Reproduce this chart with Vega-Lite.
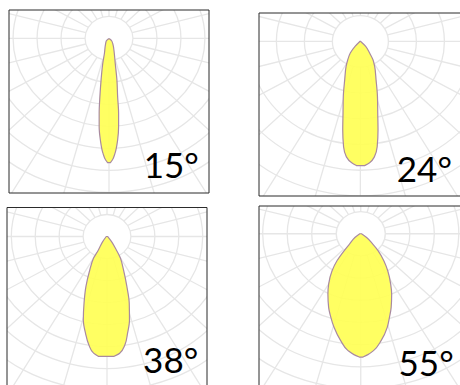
{"$schema":"https://vega.github.io/schema/vega-lite/v6.json","background":"white","padding":{"left":6,"top":9,"right":0,"bottom":0},"config":{"view":{"stroke":null,"fill":"white"}},
"datasets":{
"rings":[
{"g":1,"x":1,"y":0},{"g":1,"x":0.866,"y":0.5},{"g":1,"x":0.5,"y":0.866},{"g":1,"x":0,"y":1},{"g":1,"x":-0.5,"y":0.866},{"g":1,"x":-0.866,"y":0.5},{"g":1,"x":-1,"y":0},{"g":1,"x":-0.866,"y":-0.5},{"g":1,"x":-0.5,"y":-0.866},{"g":1,"x":0,"y":-1},{"g":1,"x":0.5,"y":-0.866},{"g":1,"x":0.866,"y":-0.5},
{"g":2,"x":2,"y":0},{"g":2,"x":1.732,"y":1},{"g":2,"x":1,"y":1.732},{"g":2,"x":0,"y":2},{"g":2,"x":-1,"y":1.732},{"g":2,"x":-1.732,"y":1},{"g":2,"x":-2,"y":0},{"g":2,"x":-1.732,"y":-1},{"g":2,"x":-1,"y":-1.732},{"g":2,"x":0,"y":-2},{"g":2,"x":1,"y":-1.732},{"g":2,"x":1.732,"y":-1},
{"g":3,"x":3,"y":0},{"g":3,"x":2.598,"y":1.5},{"g":3,"x":1.5,"y":2.598},{"g":3,"x":0,"y":3},{"g":3,"x":-1.5,"y":2.598},{"g":3,"x":-2.598,"y":1.5},{"g":3,"x":-3,"y":0},{"g":3,"x":-2.598,"y":-1.5},{"g":3,"x":-1.5,"y":-2.598},{"g":3,"x":0,"y":-3},{"g":3,"x":1.5,"y":-2.598},{"g":3,"x":2.598,"y":-1.5},
{"g":4,"x":4,"y":0},{"g":4,"x":3.464,"y":2},{"g":4,"x":2,"y":3.464},{"g":4,"x":0,"y":4},{"g":4,"x":-2,"y":3.464},{"g":4,"x":-3.464,"y":2},{"g":4,"x":-4,"y":0},{"g":4,"x":-3.464,"y":-2},{"g":4,"x":-2,"y":-3.464},{"g":4,"x":0,"y":-4},{"g":4,"x":2,"y":-3.464},{"g":4,"x":3.464,"y":-2},
{"g":5,"x":5,"y":0},{"g":5,"x":4.33,"y":2.5},{"g":5,"x":2.5,"y":4.33},{"g":5,"x":0,"y":5},{"g":5,"x":-2.5,"y":4.33},{"g":5,"x":-4.33,"y":2.5},{"g":5,"x":-5,"y":0},{"g":5,"x":-4.33,"y":-2.5},{"g":5,"x":-2.5,"y":-4.33},{"g":5,"x":0,"y":-5},{"g":5,"x":2.5,"y":-4.33},{"g":5,"x":4.33,"y":-2.5},
{"g":6,"x":6,"y":0},{"g":6,"x":5.196,"y":3},{"g":6,"x":3,"y":5.196},{"g":6,"x":0,"y":6},{"g":6,"x":-3,"y":5.196},{"g":6,"x":-5.196,"y":3},{"g":6,"x":-6,"y":0},{"g":6,"x":-5.196,"y":-3},{"g":6,"x":-3,"y":-5.196},{"g":6,"x":0,"y":-6},{"g":6,"x":3,"y":-5.196},{"g":6,"x":5.196,"y":-3},
{"g":7,"x":7,"y":0},{"g":7,"x":6.062,"y":3.5},{"g":7,"x":3.5,"y":6.062},{"g":7,"x":0,"y":7},{"g":7,"x":-3.5,"y":6.062},{"g":7,"x":-6.062,"y":3.5},{"g":7,"x":-7,"y":0},{"g":7,"x":-6.062,"y":-3.5},{"g":7,"x":-3.5,"y":-6.062},{"g":7,"x":0,"y":-7},{"g":7,"x":3.5,"y":-6.062},{"g":7,"x":6.062,"y":-3.5}
],
"spokes":[
{"x":1,"y":0,"x2":10,"y2":0},{"x":0.966,"y":0.259,"x2":9.66,"y2":2.59},{"x":0.866,"y":0.5,"x2":8.66,"y2":5},{"x":0.707,"y":0.707,"x2":7.07,"y2":7.07},{"x":0.5,"y":0.866,"x2":5,"y2":8.66},{"x":0.259,"y":0.966,"x2":2.59,"y2":9.66},
{"x":0,"y":1,"x2":0,"y2":10},{"x":-0.259,"y":0.966,"x2":-2.59,"y2":9.66},{"x":-0.5,"y":0.866,"x2":-5,"y2":8.66},{"x":-0.707,"y":0.707,"x2":-7.07,"y2":7.07},{"x":-0.866,"y":0.5,"x2":-8.66,"y2":5},{"x":-0.966,"y":0.259,"x2":-9.66,"y2":2.59},
{"x":-1,"y":0,"x2":-10,"y2":0},{"x":-0.966,"y":-0.259,"x2":-9.66,"y2":-2.59},{"x":-0.866,"y":-0.5,"x2":-8.66,"y2":-5},{"x":-0.707,"y":-0.707,"x2":-7.07,"y2":-7.07},{"x":-0.5,"y":-0.866,"x2":-5,"y2":-8.66},{"x":-0.259,"y":-0.966,"x2":-2.59,"y2":-9.66},
{"x":0,"y":-1,"x2":0,"y2":-10},{"x":0.259,"y":-0.966,"x2":2.59,"y2":-9.66},{"x":0.5,"y":-0.866,"x2":5,"y2":-8.66},{"x":0.707,"y":-0.707,"x2":7.07,"y2":-7.07},{"x":0.866,"y":-0.5,"x2":8.66,"y2":-5},{"x":0.966,"y":-0.259,"x2":9.66,"y2":-2.59}
],
"lobe15":[{"y":-0.03,"x":-0.03,"x2":0.03},{"y":-0.11,"x":-0.11,"x2":0.11},{"y":-0.3,"x":-0.15,"x2":0.17},{"y":-0.68,"x":-0.19,"x2":0.22},{"y":-1.14,"x":-0.26,"x2":0.26},{"y":-1.89,"x":-0.33,"x2":0.33},{"y":-2.65,"x":-0.38,"x2":0.36},{"y":-3.41,"x":-0.41,"x2":0.4},{"y":-4.02,"x":-0.41,"x2":0.4},{"y":-4.62,"x":-0.36,"x2":0.36},{"y":-5.23,"x":-0.25,"x2":0.25},{"y":-5.53,"x":-0.14,"x2":0.14},{"y":-5.65,"x":-0.06,"x2":0.06}],
"lobe24":[{"y":0,"x":-0.02,"x2":0.01},{"y":-0.19,"x":-0.19,"x2":0.19},{"y":-0.45,"x":-0.36,"x2":0.33},{"y":-0.71,"x":-0.45,"x2":0.45},{"y":-0.97,"x":-0.51,"x2":0.51},{"y":-1.49,"x":-0.56,"x2":0.56},{"y":-2.14,"x":-0.61,"x2":0.61},{"y":-2.79,"x":-0.62,"x2":0.62},{"y":-3.44,"x":-0.63,"x2":0.63},{"y":-4.09,"x":-0.6,"x2":0.6},{"y":-4.48,"x":-0.5,"x2":0.5},{"y":-4.71,"x":-0.31,"x2":0.33},{"y":-4.82,"x":-0.14,"x2":0.15}],
"lobe38":[{"y":0,"x":-0.03,"x2":0.03},{"y":-0.23,"x":-0.18,"x2":0.19},{"y":-0.61,"x":-0.36,"x2":0.39},{"y":-0.98,"x":-0.56,"x2":0.56},{"y":-1.52,"x":-0.72,"x2":0.69},{"y":-2.27,"x":-0.88,"x2":0.83},{"y":-3.03,"x":-0.96,"x2":0.93},{"y":-3.79,"x":-0.99,"x2":0.94},{"y":-4.39,"x":-0.9,"x2":0.86},{"y":-4.92,"x":-0.76,"x2":0.75},{"y":-5.3,"x":-0.56,"x2":0.53},{"y":-5.45,"x":-0.35,"x2":0.28}],
"lobe55":[{"y":0,"x":-0.04,"x2":0.03},{"y":-0.17,"x":-0.24,"x2":0.24},{"y":-0.47,"x":-0.46,"x2":0.49},{"y":-0.77,"x":-0.68,"x2":0.71},{"y":-1.22,"x":-0.97,"x2":0.94},{"y":-1.67,"x":-1.17,"x2":1.1},{"y":-2.27,"x":-1.31,"x2":1.22},{"y":-2.72,"x":-1.34,"x2":1.26},{"y":-3.32,"x":-1.31,"x2":1.24},{"y":-3.77,"x":-1.22,"x2":1.17},{"y":-4.22,"x":-1.09,"x2":1.08},{"y":-4.82,"x":-0.82,"x2":0.83},{"y":-5.27,"x":-0.52,"x2":0.52},{"y":-5.45,"x":-0.28,"x2":0.29},{"y":-5.56,"x":-0.06,"x2":0.09}]
},
"hconcat":[
{"vconcat":[
{"hconcat":[
{"width":1,"height":3,"view":{"stroke":null,"fill":null},"data":{"values":[]},"mark":{"type":"rule"},"encoding":{}},
{"width":200,"height":183,
"encoding":{"x":{"field":"x","type":"quantitative","axis":null,"scale":{"domain":[-4.17,4.17],"nice":false,"zero":false}},"y":{"field":"y","type":"quantitative","axis":null,"scale":{"domain":[-7.03,1.286],"nice":false,"zero":false}}},
"layer":[
{"data":{"name":"rings"},"mark":{"type":"line","clip":true,"interpolate":"cardinal-closed","stroke":"#e6e6e6","strokeWidth":1.3},"encoding":{"detail":{"field":"g"},"order":{"value":null}}},
{"data":{"name":"spokes"},"mark":{"type":"rule","clip":true,"stroke":"#e6e6e6","strokeWidth":1.3},"encoding":{"x2":{"field":"x2"},"y2":{"field":"y2"}}},
{"data":{"name":"lobe15"},"mark":{"type":"area","orient":"horizontal","interpolate":"monotone","fill":"#ffff55","fillOpacity":0.92,"stroke":"#a98aa0","strokeWidth":1.2},"encoding":{"x2":{"field":"x2"}}},
{"data":{"values":[{"label":"15°","x":1.45,"y":-6.35}]},"mark":{"type":"text","font":"Lato","fontSize":35,"align":"left","baseline":"alphabetic","fill":"#000000"},"encoding":{"text":{"field":"label"}}},
{"data":{"values":[{"x":-4.17,"x2":4.17,"y":-7.03,"y2":1.286}]},"mark":{"type":"rect","fillOpacity":0,"stroke":"#2b2b2b","strokeWidth":1},"encoding":{"x2":{"field":"x2"},"y2":{"field":"y2"}}}
]}
],"spacing":0},
{"width":200,"height":180,
"encoding":{"x":{"field":"x","type":"quantitative","axis":null,"scale":{"domain":[-4.18,4.18],"nice":false,"zero":false}},"y":{"field":"y","type":"quantitative","axis":null,"scale":{"domain":[-6.86,1.318],"nice":false,"zero":false}}},
"layer":[
{"data":{"name":"rings"},"mark":{"type":"line","clip":true,"interpolate":"cardinal-closed","stroke":"#e6e6e6","strokeWidth":1.3},"encoding":{"detail":{"field":"g"},"order":{"value":null}}},
{"data":{"name":"spokes"},"mark":{"type":"rule","clip":true,"stroke":"#e6e6e6","strokeWidth":1.3},"encoding":{"x2":{"field":"x2"},"y2":{"field":"y2"}}},
{"data":{"name":"lobe38"},"mark":{"type":"area","orient":"horizontal","interpolate":"monotone","fill":"#ffff55","fillOpacity":0.92,"stroke":"#a98aa0","strokeWidth":1.2},"encoding":{"x2":{"field":"x2"}}},
{"data":{"values":[{"label":"38°","x":1.51,"y":-6.22}]},"mark":{"type":"text","font":"Lato","fontSize":35,"align":"left","baseline":"alphabetic","fill":"#000000"},"encoding":{"text":{"field":"label"}}},
{"data":{"values":[{"x":-4.18,"x2":4.18,"y":-6.86,"y2":1.318}]},"mark":{"type":"rect","fillOpacity":0,"stroke":"#2b2b2b","strokeWidth":1},"encoding":{"x2":{"field":"x2"},"y2":{"field":"y2"}}}
]}
],"spacing":12.5},
{"vconcat":[
{"width":1,"height":2,"view":{"stroke":null,"fill":null},"data":{"values":[]},"mark":{"type":"rule"},"encoding":{}},
{"bounds":"flush","vconcat":[
{"width":205,"height":183,
"encoding":{"x":{"field":"x","type":"quantitative","axis":null,"scale":{"domain":[-3.62,3.7],"nice":false,"zero":false}},"y":{"field":"y","type":"quantitative","axis":null,"scale":{"domain":[-6.0,1.105],"nice":false,"zero":false}}},
"layer":[
{"data":{"name":"rings"},"mark":{"type":"line","clip":true,"interpolate":"cardinal-closed","stroke":"#e6e6e6","strokeWidth":1.3},"encoding":{"detail":{"field":"g"},"order":{"value":null}}},
{"data":{"name":"spokes"},"mark":{"type":"rule","clip":true,"stroke":"#e6e6e6","strokeWidth":1.3},"encoding":{"x2":{"field":"x2"},"y2":{"field":"y2"}}},
{"data":{"name":"lobe24"},"mark":{"type":"area","orient":"horizontal","interpolate":"monotone","fill":"#ffff55","fillOpacity":0.92,"stroke":"#a98aa0","strokeWidth":1.2},"encoding":{"x2":{"field":"x2"}}},
{"data":{"values":[{"label":"24°","x":1.3,"y":-5.46}]},"mark":{"type":"text","font":"Lato","fontSize":35,"align":"left","baseline":"alphabetic","fill":"#000000"},"encoding":{"text":{"field":"label"}}},
{"data":{"values":[{"x":-3.62,"x2":3.7,"y":-6.0,"y2":1.105}]},"mark":{"type":"rect","fillOpacity":0,"stroke":"#2b2b2b","strokeWidth":1},"encoding":{"x2":{"field":"x2"},"y2":{"field":"y2"}}}
]},
{"width":205,"height":181,
"encoding":{"x":{"field":"x","type":"quantitative","axis":null,"scale":{"domain":[-4.15,4.21],"nice":false,"zero":false}},"y":{"field":"y","type":"quantitative","axis":null,"scale":{"domain":[-6.91,1.25],"nice":false,"zero":false}}},
"layer":[
{"data":{"name":"rings"},"mark":{"type":"line","clip":true,"interpolate":"cardinal-closed","stroke":"#e6e6e6","strokeWidth":1.3},"encoding":{"detail":{"field":"g"},"order":{"value":null}}},
{"data":{"name":"spokes"},"mark":{"type":"rule","clip":true,"stroke":"#e6e6e6","strokeWidth":1.3},"encoding":{"x2":{"field":"x2"},"y2":{"field":"y2"}}},
{"data":{"name":"lobe55"},"mark":{"type":"area","orient":"horizontal","interpolate":"monotone","fill":"#ffff55","fillOpacity":0.92,"stroke":"#a98aa0","strokeWidth":1.2},"encoding":{"x2":{"field":"x2"}}},
{"data":{"values":[{"label":"55°","x":1.54,"y":-6.43}]},"mark":{"type":"text","font":"Lato","fontSize":35,"align":"left","baseline":"alphabetic","fill":"#000000"},"encoding":{"text":{"field":"label"}}},
{"data":{"values":[{"x":-4.15,"x2":4.21,"y":-6.91,"y2":1.25}]},"mark":{"type":"rect","fillOpacity":0,"stroke":"#2b2b2b","strokeWidth":1},"encoding":{"x2":{"field":"x2"},"y2":{"field":"y2"}}}
]}
],"spacing":10}
],"spacing":0}
],"spacing":48}
